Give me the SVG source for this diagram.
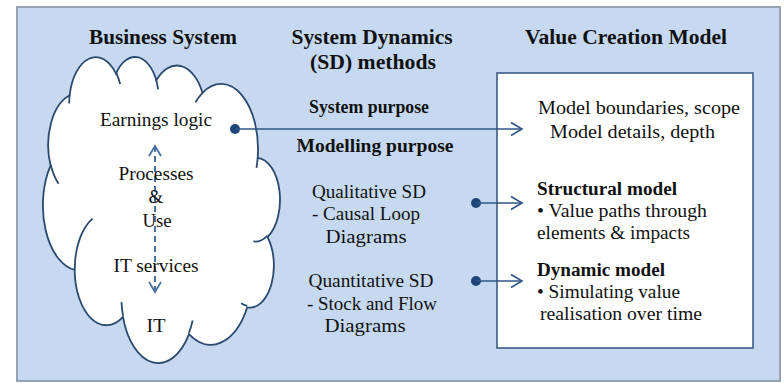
<svg xmlns="http://www.w3.org/2000/svg" width="784" height="383" viewBox="0 0 784 383">
<style>
.t{font-family:"Liberation Serif","Times New Roman",serif;fill:#111;}
.r{font-size:19px;}
.b{font-size:18.5px;font-weight:bold;}
.h{font-size:20px;font-weight:bold;}
.c{stroke:#2f5585;stroke-width:1.6;fill:none;}
.d{stroke:#4a70a0;stroke-width:2;fill:none;stroke-dasharray:6 4;}
.dot{fill:#1f4478;}
</style>
<defs>
<marker id="ah" viewBox="0 0 14 16" markerWidth="14" markerHeight="16" refX="12.5" refY="8" orient="auto" markerUnits="userSpaceOnUse">
<path d="M1.5,1.5 L12.5,8 L1.5,14.5" fill="none" stroke="#2f5585" stroke-width="1.6"/>
</marker>
<marker id="ahd" viewBox="0 0 14 14" markerWidth="14" markerHeight="14" refX="12" refY="7" orient="auto-start-reverse" markerUnits="userSpaceOnUse">
<path d="M2,1 L12,7 L2,13" fill="none" stroke="#4a70a0" stroke-width="1.8"/>
</marker>
</defs>
<rect x="17" y="7" width="763" height="374" fill="#c6d9f0" stroke="#97a3b3" stroke-width="2"/>

<g id="cloud">
<g transform="translate(279,56) scale(-0.005463,0.0070833)">
<path vector-effect="non-scaling-stroke" fill="#fff" stroke="#2b4a70" stroke-width="1.8" d="M3900,14370 A6753,9190 0 0,1 14005,5202 A5333,7267 0 0,1 22457,3434 A4365,5945 0 0,1 29834,2482 A4857,6595 0 0,1 38317,5579 A5333,7273 0 0,1 41818,15463 A6775,9220 0 0,1 37404,30207 A5785,7867 0 0,1 28556,36817 A6752,9215 0 0,1 16481,39269 A7720,10543 0 0,1 5804,35474 A4360,5918 0 0,1 2114,25550 A4345,5945 0 0,1 3900,14370 Z"/>
<path vector-effect="non-scaling-stroke" fill="none" stroke="#2b4a70" stroke-width="1.8" d="M4693,26177 A4345,5945 0 0,1 2159,25380 M6928,34899 A4360,5918 0 0,1 5819,35281 M16478,39090 A6752,9215 0 0,1 15810,37350 M28827,34751 A6752,9215 0 0,1 28560,36660 M34129,22954 A5785,7867 0 0,1 37381,30090 M41798,15354 A5333,7273 0 0,1 40350,18031 M38324,5426 A4857,6595 0 0,1 38400,6690 M29078,3952 A4857,6595 0 0,1 29821,2338 M22141,4720 A4365,5945 0 0,1 22500,3330 M14000,5192 A6753,9190 0 0,1 15302,6543 M4127,15789 A6753,9190 0 0,1 3900,14370"/>
</g>
</g>

<g id="value-box">
<rect x="497" y="73" width="256" height="275" fill="#fff" stroke="#3b5c86" stroke-width="1.6"/>
</g>

<g id="connectors">
<line class="d" x1="155" y1="146" x2="155" y2="292" marker-start="url(#ahd)" marker-end="url(#ahd)"/>
<circle class="dot" cx="235" cy="129" r="5"/>
<line class="c" x1="235" y1="129" x2="522" y2="129" marker-end="url(#ah)"/>
<circle class="dot" cx="476" cy="203" r="5"/>
<line class="c" x1="476" y1="203" x2="522" y2="203" marker-end="url(#ah)"/>
<circle class="dot" cx="476" cy="281" r="5"/>
<line class="c" x1="476" y1="281" x2="522" y2="281" marker-end="url(#ah)"/>
</g>

<g id="headers">
<text class="t h" x="163" y="44" text-anchor="middle" textLength="148" lengthAdjust="spacingAndGlyphs">Business System</text>
<text class="t h" x="372" y="44" text-anchor="middle" textLength="161" lengthAdjust="spacingAndGlyphs">System Dynamics</text>
<text class="t h" x="373" y="69" text-anchor="middle" textLength="126" lengthAdjust="spacingAndGlyphs">(SD) methods</text>
<text class="t h" x="626" y="44" text-anchor="middle" textLength="202" lengthAdjust="spacingAndGlyphs">Value Creation Model</text>
</g>

<g id="cloud-labels">
<text class="t r" x="156" y="126" text-anchor="middle" textLength="112" lengthAdjust="spacingAndGlyphs">Earnings logic</text>
<text class="t r" x="156" y="180" text-anchor="middle" textLength="75" lengthAdjust="spacingAndGlyphs">Processes</text>
<text class="t r" x="156" y="203" text-anchor="middle">&amp;</text>
<text class="t r" x="157" y="227" text-anchor="middle" textLength="29" lengthAdjust="spacingAndGlyphs">Use</text>
<text class="t r" x="156" y="272" text-anchor="middle" textLength="85" lengthAdjust="spacingAndGlyphs">IT services</text>
<text class="t r" x="156" y="332" text-anchor="middle" textLength="19" lengthAdjust="spacingAndGlyphs">IT</text>
</g>

<g id="sd-methods">
<text class="t b" x="369" y="113" text-anchor="middle" textLength="120" lengthAdjust="spacingAndGlyphs">System purpose</text>
<text class="t b" x="375" y="152" text-anchor="middle" textLength="157" lengthAdjust="spacingAndGlyphs">Modelling purpose</text>
<text class="t r" x="369" y="198" text-anchor="middle" textLength="114" lengthAdjust="spacingAndGlyphs">Qualitative SD</text>
<text class="t r" x="366" y="220" text-anchor="middle" textLength="108" lengthAdjust="spacingAndGlyphs">- Causal Loop</text>
<text class="t r" x="366" y="243" text-anchor="middle" textLength="81" lengthAdjust="spacingAndGlyphs">Diagrams</text>
<text class="t r" x="371" y="287" text-anchor="middle" textLength="125" lengthAdjust="spacingAndGlyphs">Quantitative SD</text>
<text class="t r" x="372" y="310" text-anchor="middle" textLength="130" lengthAdjust="spacingAndGlyphs">- Stock and Flow</text>
<text class="t r" x="365" y="332" text-anchor="middle" textLength="81" lengthAdjust="spacingAndGlyphs">Diagrams</text>
</g>

<g id="value-labels">
<text class="t r" x="538" y="114" textLength="202" lengthAdjust="spacingAndGlyphs">Model boundaries, scope</text>
<text class="t r" x="550" y="138" textLength="165" lengthAdjust="spacingAndGlyphs">Model details, depth</text>
<text class="t b" x="537" y="195" textLength="140" lengthAdjust="spacingAndGlyphs">Structural model</text>
<text class="t r" x="537" y="217" textLength="170" lengthAdjust="spacingAndGlyphs">• Value paths through</text>
<text class="t r" x="537" y="239" textLength="153" lengthAdjust="spacingAndGlyphs">elements &amp; impacts</text>
<text class="t b" x="537" y="276" textLength="128" lengthAdjust="spacingAndGlyphs">Dynamic model</text>
<text class="t r" x="537" y="298" textLength="143" lengthAdjust="spacingAndGlyphs">• Simulating value</text>
<text class="t r" x="540" y="320" textLength="162" lengthAdjust="spacingAndGlyphs">realisation over time</text>
</g>
</svg>
